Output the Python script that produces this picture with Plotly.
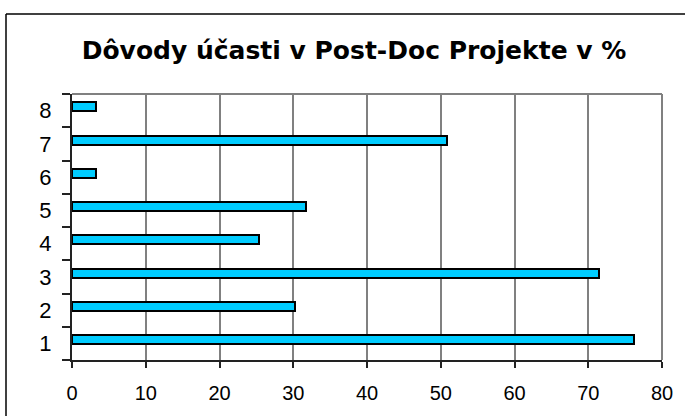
import plotly.graph_objects as go

categories = ["1", "2", "3", "4", "5", "6", "7", "8"]
values = [76.2, 30.2, 71.4, 25.4, 31.7, 3.2, 50.8, 3.2]
x_ticks = [0, 10, 20, 30, 40, 50, 60, 70, 80]
title_text = "Dôvody účasti v Post-Doc Projekte v %"

FONT = "Arial, Liberation Sans, sans-serif"

fig = go.Figure()
fig.add_trace(go.Bar(
    y=categories, x=values, orientation="h",
    width=0.27, offset=-0.02,
    marker=dict(color="#00CCFF", line=dict(color="black", width=2)),
    hoverinfo="x+y",
))

# plot area in px: x 72..662, y 94..363
L, R, T, B = 72, 662, 94, 363
W, H = 685, 416
pw, ph = R - L, B - T

def px_x(px):
    return (px - L) / pw

def px_y(py):
    return (B - py) / ph

shapes = [
    dict(type="line", xref="paper", yref="paper", x0=px_x(6), x1=px_x(6), y0=px_y(13), y1=px_y(430),
         line=dict(color="black", width=1.5)),
    dict(type="line", xref="paper", yref="paper", x0=px_x(6), x1=px_x(700), y0=px_y(13), y1=px_y(13),
         line=dict(color="black", width=1.5)),
    dict(type="line", xref="paper", yref="paper", x0=0, x1=1, y0=1, y1=1,
         line=dict(color="#808080", width=2)),
    dict(type="line", xref="paper", yref="paper", x0=1, x1=1, y0=0, y1=1,
         line=dict(color="#808080", width=2)),
]

fig.update_layout(
    width=W, height=H,
    margin=dict(l=L, r=W - R, t=T, b=H - B),
    paper_bgcolor="white", plot_bgcolor="white",
    showlegend=False,
    bargap=0,
    font=dict(family=FONT, color="black", size=20),
    title=dict(text="<b>" + title_text + "</b>", x=354 / W, xanchor="center",
               y=1 - 50 / H, yanchor="middle",
               font=dict(family="DejaVu Sans, sans-serif", size=25, color="black")),
    shapes=shapes,
)
fig.update_xaxes(
    range=[0, 80], tickvals=x_ticks, ticktext=[str(v) for v in x_ticks],
    showgrid=True, gridcolor="#808080", gridwidth=1.5,
    showline=True, linecolor="#222222", linewidth=2,
    ticks="outside", ticklen=6, tickcolor="#222222", tickwidth=1.5,
    zeroline=False, tickfont=dict(size=20, family=FONT),
    ticklabelstandoff=8, fixedrange=True,
)
fig.update_yaxes(
    type="category", categoryorder="array", categoryarray=categories,
    range=[-0.5, 7.5], tickson="boundaries",
    showgrid=False, showline=True, linecolor="#222222", linewidth=2,
    ticks="outside", ticklen=8, tickcolor="#222222", tickwidth=1.5,
    tickfont=dict(size=22, family=FONT), ticklabelstandoff=14, fixedrange=True,
)

fig.write_html("out.html", config={"displayModeBar": False},
               post_script="document.body.style.margin='0';")
